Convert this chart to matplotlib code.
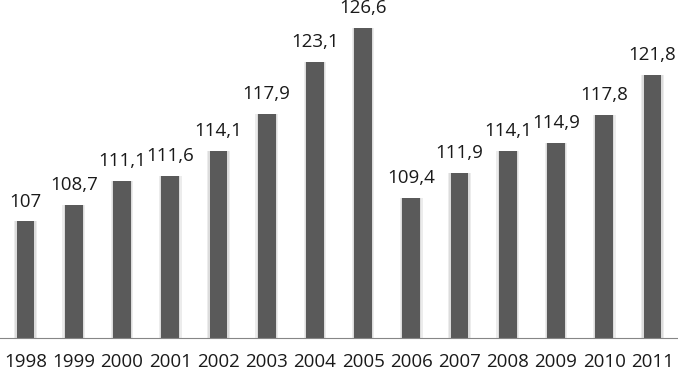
import matplotlib.pyplot as plt

years = ['1998', '1999', '2000', '2001', '2002', '2003', '2004',
         '2005', '2006', '2007', '2008', '2009', '2010', '2011']
values = [107, 108.7, 111.1, 111.6, 114.1, 117.9, 123.1,
          126.6, 109.4, 111.9, 114.1, 114.9, 117.8, 121.8]

fig = plt.figure(figsize=(6.78, 3.72), dpi=100)
ax = fig.add_axes([0, 0.0914, 1, 0.9086])

x = range(len(years))
bottom = 95.2
heights = [v - bottom for v in values]
# soft glow behind the bars
ax.bar(x, heights, bottom=bottom, width=0.47, color='#ececec', zorder=1)
ax.bar(x, heights, bottom=bottom, width=0.42, color='#dcdcdc', zorder=1)
ax.bar(x, heights, bottom=bottom, width=0.37, color='#5a5a5a', zorder=2)

for i, v in enumerate(values):
    ax.text(i, v + 1.5, f'{v:g}'.replace('.', ','), ha='center', va='baseline',
            fontsize=13.5, color='#1a1a1a', family='Open Sans')

ax.set_xlim(-0.53, len(years) - 0.47)
ax.set_ylim(bottom, 129.4)
ax.set_xticks(list(x))
ax.set_xticklabels(years, fontsize=13.5, family='Open Sans', color='#1a1a1a')
ax.tick_params(axis='x', length=0, pad=11)
ax.set_yticks([])
for s in ['top', 'left', 'right']:
    ax.spines[s].set_visible(False)
ax.spines['bottom'].set_color('#868686')

plt.savefig('out.png', dpi=100)
